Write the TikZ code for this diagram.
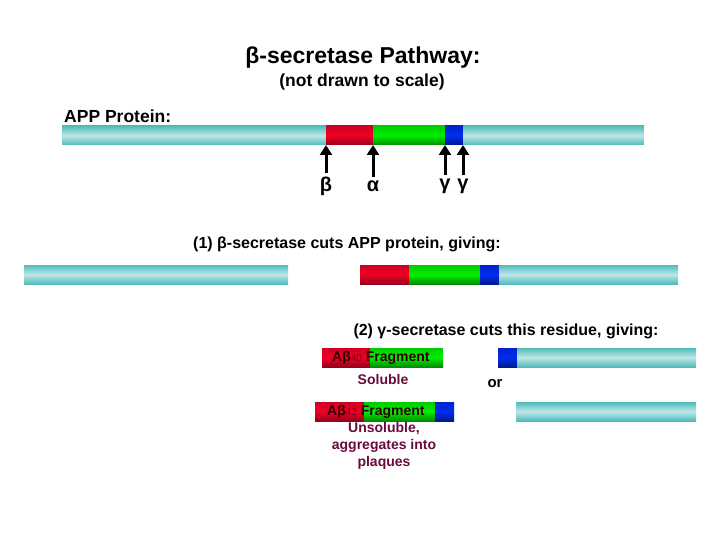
\documentclass[tikz,border=0pt]{standalone}
\usepackage{fontspec}
\setmainfont{Liberation Sans}
\usetikzlibrary{arrows.meta}
\definecolor{tealE}{RGB}{80,188,188}
\definecolor{tealL}{RGB}{190,230,230}
\definecolor{redT}{RGB}{205,0,35}
\definecolor{redM}{RGB}{240,0,35}
\definecolor{redB}{RGB}{150,0,30}
\definecolor{grnT}{RGB}{0,205,0}
\definecolor{grnM}{RGB}{0,238,0}
\definecolor{grnB}{RGB}{0,140,0}
\definecolor{bluT}{RGB}{0,35,205}
\definecolor{bluM}{RGB}{0,45,240}
\definecolor{bluB}{RGB}{0,25,140}
\definecolor{maroon}{RGB}{105,10,60}
\definecolor{fragtxt}{RGB}{45,0,0}
\tikzset{
  seg/.style={inner sep=0pt, outer sep=0pt, minimum height=19pt, anchor=north west, draw=none},
  cyanseg/.style={seg, top color=tealE, bottom color=tealE, middle color=tealL},
  redseg/.style={seg, top color=redT, bottom color=redB, middle color=redM},
  grnseg/.style={seg, top color=grnT, bottom color=grnB, middle color=grnM},
  bluseg/.style={seg, top color=bluT, bottom color=bluB, middle color=bluM},
  cutarrow/.style={line width=3pt, -{Triangle[length=10pt,width=12pt]}},
  greek/.style={inner sep=0pt, font=\bfseries\fontsize{20}{22}\selectfont},
  lbl/.style={inner sep=0pt, font=\bfseries\fontsize{16}{19}\selectfont},
  note/.style={inner sep=0pt, align=center, text=maroon, font=\bfseries\fontsize{14}{17}\selectfont},
  fragtext/.style={inner sep=0pt, text=fragtxt, font=\bfseries\fontsize{14}{17}\selectfont}
}
\begin{document}
\begin{tikzpicture}[x=1pt,y=-1pt]
\useasboundingbox (0,0) rectangle (720,540);
% titles
\node[inner sep=0pt, font=\bfseries\fontsize{23}{27}\selectfont] (title) at (363,58) {β-secretase Pathway:};
\node[inner sep=0pt, font=\bfseries\fontsize{17.5}{20}\selectfont] (sub) at (362,82) {(not drawn to scale)};
\node[inner sep=0pt, anchor=west, font=\bfseries\fontsize{17.5}{20}\selectfont] (applbl) at (64,116) {APP Protein:};
% APP protein bar
\node[cyanseg, minimum width=264pt] (appL) at (62,126) {};
\node[redseg, minimum width=47pt] (appR) at (326,126) {};
\node[grnseg, minimum width=72pt] (appG) at (373,126) {};
\node[bluseg, minimum width=18pt] (appB) at (445,126) {};
\node[cyanseg, minimum width=181pt] (appC) at (463,126) {};
% cut sites
\node[greek] (gb) at (326,186) {β};
\node[greek] (ga) at (373,186) {α};
\node[greek] (gg1) at (445,186) {γ};
\node[greek] (gg2) at (463,186) {γ};
\draw[cutarrow] ([yshift=3pt]gb.north) -- (appR.south west);
\draw[cutarrow] ([yshift=3pt]ga.north) -- (appG.south west);
\draw[cutarrow] ([yshift=3pt]gg1.north) -- (appB.south west);
\draw[cutarrow] ([yshift=3pt]gg2.north) -- (appC.south west);
% step 1
\node[lbl] (step1) at (347,244) {(1) β-secretase cuts APP protein, giving:};
\node[cyanseg, minimum width=264pt] (s1L) at (24,265) {};
\node[redseg, minimum width=49pt] (s1R) at (360,265) {};
\node[grnseg, minimum width=71pt] (s1G) at (409,265) {};
\node[bluseg, minimum width=19pt] (s1B) at (480,265) {};
\node[cyanseg, minimum width=179pt] (s1C) at (499,265) {};
% step 2
\node[lbl] (step2) at (506,331) {(2) γ-secretase cuts this residue, giving:};
\node[redseg, minimum width=48pt] (f40R) at (322,348) {};
\node[grnseg, minimum width=73pt] (f40G) at (370,348) {};
\node[fragtext, anchor=west] (f40t) at (332,358) {Aβ{\mdseries\fontsize{10}{12}\selectfont\color{redB!80!black}40} Fragment};
\node[bluseg, minimum width=19pt] (r40B) at (498,348) {};
\node[cyanseg, minimum width=179pt] (r40C) at (517,348) {};
\node[note] (sol) at (383,379) {Soluble};
\node[inner sep=0pt, font=\bfseries\fontsize{15}{18}\selectfont] (or) at (495,384) {or};
\node[redseg, minimum width=49pt] (f42R) at (315,402) {};
\node[grnseg, minimum width=71pt] (f42G) at (364,402) {};
\node[bluseg, minimum width=19pt] (f42B) at (435,402) {};
\node[fragtext, anchor=west] (f42t) at (327,412) {Aβ{\mdseries\fontsize{10}{12}\selectfont\color{redB!80!black}42} Fragment};
\node[cyanseg, minimum width=180pt] (r42C) at (516,402) {};
\node[note] (insol) at (384,446) {Unsoluble,\\aggregates into\\plaques};
\end{tikzpicture}
\end{document}
